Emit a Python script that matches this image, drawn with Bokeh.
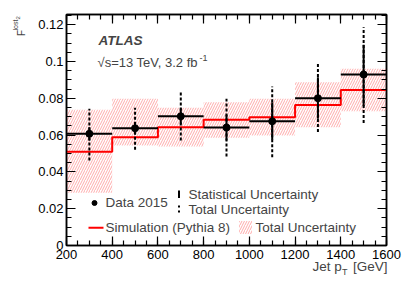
import numpy as np
from bokeh.plotting import figure
from bokeh.models import FixedTicker, LinearAxis, Label, Range1d
from bokeh.embed import file_html
from bokeh.resources import INLINE

# ---------------- data ----------------
bin_lo = [200, 400, 600, 800, 1000, 1200, 1400]
bin_hi = [400, 600, 800, 1000, 1200, 1400, 1600]
data_val = [0.0607, 0.0637, 0.0702, 0.0641, 0.0675, 0.0800, 0.0929]
stat_hi = [0.0643, 0.0669, 0.0745, 0.0710, 0.0778, 0.0914, 0.1091]
stat_lo = [0.0571, 0.0605, 0.0659, 0.0570, 0.0574, 0.0688, 0.0756]
tot_hi = [0.0743, 0.0748, 0.0837, 0.0797, 0.0864, 0.0990, 0.1186]
tot_lo = [0.0462, 0.0520, 0.0570, 0.0483, 0.0480, 0.0616, 0.0665]
sim_val = [0.0510, 0.0588, 0.0642, 0.0683, 0.0697, 0.0764, 0.0845]
sim_band_lo = [0.0286, 0.0543, 0.0538, 0.0585, 0.0597, 0.0642, 0.0729]
sim_band_hi = [0.0737, 0.0797, 0.0748, 0.0778, 0.0797, 0.0887, 0.0960]
x_ticks = [200, 400, 600, 800, 1000, 1200, 1400, 1600]
y_ticks = [0, 0.02, 0.04, 0.06, 0.08, 0.1, 0.12]
y_tick_labels = ["0", "0.02", "0.04", "0.06", "0.08", "0.1", "0.12"]

X0, X1 = 200, 1600
Y0, Y1 = 0.0, 0.1255
FONT = "Liberation Sans"
W, H = 407, 292

# page-pixel -> data helpers (for annotation placement only)
PX_L, PX_R, PX_T, PX_B = 66, 386, 14, 245
def dx(px):
    return X0 + (px - PX_L) * (X1 - X0) / (PX_R - PX_L)
def dy(py):
    return Y0 + (PX_B - py) * (Y1 - Y0) / (PX_B - PX_T)

p = figure(width=W, height=H, x_range=Range1d(X0, X1), y_range=Range1d(Y0, Y1),
           output_backend="svg", toolbar_location=None,
           min_border_left=PX_L, min_border_right=W - PX_R,
           min_border_top=PX_T, min_border_bottom=H - PX_B)
p.xgrid.visible = False
p.ygrid.visible = False
p.outline_line_color = "black"
p.outline_line_width = 1.5
p.background_fill_color = "white"
p.border_fill_color = "white"

x_minor = list(np.arange(200, 1601, 50))
y_minor = [round(v, 3) for v in np.arange(0, 0.1251, 0.005)]

def style_axis(ax, labels=True):
    ax.axis_line_color = "black"
    ax.axis_line_width = 1.5
    ax.major_tick_in = 9
    ax.major_tick_out = 0
    ax.minor_tick_in = 5
    ax.minor_tick_out = 0
    ax.major_tick_line_width = 1.2
    ax.minor_tick_line_width = 1.2
    ax.major_label_text_font = FONT
    ax.major_label_text_font_size = "13px"
    ax.major_label_text_color = "black" if labels else None
    ax.major_label_standoff = 4

p.xaxis.ticker = FixedTicker(ticks=x_ticks, minor_ticks=x_minor)
p.yaxis.ticker = FixedTicker(ticks=y_ticks, minor_ticks=y_minor)
p.yaxis.major_label_overrides = {t: l for t, l in zip(y_ticks, y_tick_labels)}
style_axis(p.xaxis[0])
style_axis(p.yaxis[0])
p.yaxis.major_label_standoff = 3

top_ax = LinearAxis(ticker=FixedTicker(ticks=x_ticks, minor_ticks=x_minor))
right_ax = LinearAxis(ticker=FixedTicker(ticks=y_ticks, minor_ticks=y_minor))
style_axis(top_ax, labels=False)
style_axis(right_ax, labels=False)
p.add_layout(top_ax, "above")
p.add_layout(right_ax, "right")

HATCH = dict(fill_color=None, line_color=None, hatch_pattern="/",
             hatch_color="#ff3030", hatch_alpha=0.45, hatch_scale=5, hatch_weight=0.9)

# ---------------- simulation band + line ----------------
p.quad(left=bin_lo, right=bin_hi, bottom=sim_band_lo, top=sim_band_hi, **HATCH)

edges = bin_lo + [bin_hi[-1]]
p.step(x=edges, y=sim_val + [sim_val[-1]], mode="after",
       line_color="#ff0000", line_width=2)

# ---------------- data ----------------
centers = [(a + b) / 2 for a, b in zip(bin_lo, bin_hi)]
p.segment(x0=centers, x1=centers, y0=tot_lo, y1=tot_hi,
          line_color="black", line_width=2, line_dash="3 2")
p.segment(x0=centers, x1=centers, y0=stat_lo, y1=stat_hi,
          line_color="black", line_width=2)
p.segment(x0=bin_lo, x1=bin_hi, y0=data_val, y1=data_val,
          line_color="black", line_width=2)
p.scatter(x=centers, y=data_val, size=7, color="black")

# ---------------- legend (drawn manually) ----------------
LEG = "13.5px"
p.scatter(x=[dx(94)], y=[dy(202.5)], size=5, color="black")
p.add_layout(Label(x=dx(105), y=dy(202), text="Data 2015", text_font=FONT,
                   text_font_size=LEG, text_baseline="middle"))
p.segment(x0=[dx(178.5)], x1=[dx(178.5)], y0=[dy(197.5)], y1=[dy(190)],
          line_color="black", line_width=2)
p.segment(x0=[dx(178.5)], x1=[dx(178.5)], y0=[dy(212)], y1=[dy(205)],
          line_color="black", line_width=2, line_dash="2 3")
p.add_layout(Label(x=dx(188), y=dy(193.5), text="Statistical Uncertainty",
                   text_font=FONT, text_font_size=LEG, text_baseline="middle"))
p.add_layout(Label(x=dx(188), y=dy(208.5), text="Total Uncertainty",
                   text_font=FONT, text_font_size=LEG, text_baseline="middle"))
p.segment(x0=[dx(88)], x1=[dx(103)], y0=[dy(227.3)], y1=[dy(227.3)],
          line_color="#ff0000", line_width=2)
p.add_layout(Label(x=dx(105), y=dy(226.5), text="Simulation (Pythia 8)",
                   text_font=FONT, text_font_size=LEG, text_baseline="middle"))
p.quad(left=[dx(238.5)], right=[dx(251.5)], bottom=[dy(233.5)], top=[dy(220.5)], **HATCH)
p.add_layout(Label(x=dx(255), y=dy(226.5), text="Total Uncertainty",
                   text_font=FONT, text_font_size=LEG, text_baseline="middle"))

# ---------------- ATLAS texts ----------------
p.add_layout(Label(x=dx(98), y=dy(40), text="ATLAS", text_font=FONT,
                   text_font_style="bold italic", text_font_size="13.5px",
                   text_baseline="middle"))
p.add_layout(Label(x=dx(97), y=dy(62), text="√s=13 TeV, 3.2 fb", text_font=FONT,
                   text_font_size="13px", text_baseline="middle"))
p.add_layout(Label(x=dx(199), y=dy(57), text="-1", text_font=FONT,
                   text_font_size="9px", text_baseline="middle"))

# ---------------- axis titles (side panels, canvas units) ----------------
def cl(side, px, py, text, size, **kw):
    p.add_layout(Label(x=px, y=py, x_units="canvas", y_units="canvas", text=text,
                       text_font=FONT, text_font_size=size, **kw), side)

NB = "\u00a0"
cl("below", 387, 266, "Jet p" + NB * 3 + "[GeV]", "13.5px", text_baseline="middle",
   text_align="right")
cl("right", 341.5, 271.5, "T", "9px", text_baseline="middle")
cl("left", 20.5, 35.5, "F", "10px", angle=np.pi / 2, text_baseline="alphabetic")
cl("left", 15.3, 30, "lost", "7px", angle=np.pi / 2, text_baseline="alphabetic")
cl("left", 17.5, 19, "2", "6px", angle=np.pi / 2, text_baseline="alphabetic")

open("out.html", "w").write(file_html(p, INLINE))
